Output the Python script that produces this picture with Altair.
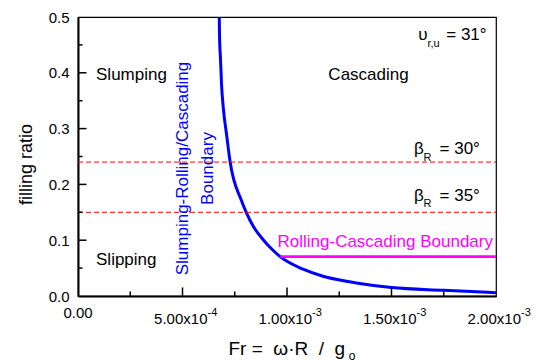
import altair as alt
import pandas as pd

# ---------------- data ----------------
curve_x = [0.000676, 0.000677, 0.000682, 0.000687, 0.000696, 0.000711, 0.000728,
           0.000781, 0.000805, 0.000840, 0.000888, 0.000933, 0.000969, 0.001077,
           0.001172, 0.001284, 0.001332, 0.0015, 0.00175, 0.002]
curve_y = [0.5, 0.468, 0.423, 0.378, 0.334, 0.289, 0.240,
           0.172, 0.150, 0.124, 0.100, 0.082, 0.070, 0.048,
           0.0354, 0.0264, 0.0233, 0.0151, 0.0102, 0.0060]

beta_levels = [0.24, 0.15]
rc_x = [0.000969, 0.002]
rc_level = 0.0705

x_major = [0.0005, 0.001, 0.0015]
x_minor = [0.00025, 0.00075, 0.00125, 0.00175]
y_major = [0.1, 0.2, 0.3, 0.4]
y_minor = [0.05, 0.15, 0.25, 0.35, 0.45]
y_labels = [0.0, 0.1, 0.2, 0.3, 0.4, 0.5]

xlab_vals = [0.0005, 0.001, 0.0015, 0.002]
xlab_base = ["5.00x10", "1.00x10", "1.50x10", "2.00x10"]
xlab_sup = ["-4", "-3", "-3", "-3"]

left_texts = ["Slumping", "Slipping", "\u03c5", "\u03b2", "\u03b2"]
left_x = [0.0000862, 0.0000862, 0.001628, 0.001608, 0.001608]
left_y = [0.387, 0.0551, 0.458, 0.254, 0.1706]

sub_texts = ["r,u", "R", "R"]
sub_x = [0.001672, 0.001653, 0.001653]
sub_y = [0.447, 0.2426, 0.160]

right_texts = ["= 31\u00b0", "= 30\u00b0", "= 35\u00b0"]
right_x = [0.001955, 0.001923, 0.001923]
right_y = [0.458, 0.254, 0.1706]

blue_texts = ["Slumping-Rolling/Cascading", "Boundary"]
blue_x = [0.000503, 0.000623]
blue_y = [0.2285, 0.2285]

x_title = "Fr = \u00a0\u03c9\u00b7R\u00a0\u00a0/\u00a0\u00a0g"
x_title_sub = "o"

FONT = "Liberation Sans"
XS = alt.Scale(domain=[0, 0.002], nice=False, zero=False)
YS = alt.Scale(domain=[0, 0.5], nice=False, zero=False)

X_AXIS = alt.Axis(labels=False, ticks=False, grid=False, title=None,
                  domainColor="black", domainWidth=2)
Y_AXIS = alt.Axis(values=y_labels, format=".1f", ticks=False, grid=False,
                  labelPadding=9, labelFontSize=15, labelFont=FONT,
                  labelColor="black", domainColor="black", domainWidth=2,
                  title="filling ratio", titleFont=FONT, titleFontSize=18,
                  titleFontWeight="normal", titleColor="black",
                  titleAngle=270, titleAlign="center", titleBaseline="alphabetic",
                  titleX=-47, titleY=147)


def X(f="x"):
    return alt.X(f, type="quantitative", scale=XS, axis=X_AXIS)


def Y(f="y"):
    return alt.Y(f, type="quantitative", scale=YS, axis=Y_AXIS)


# ---------------- layers ----------------
dash_df = pd.DataFrame({"x": [0.0] * len(beta_levels), "x2": [0.002] * len(beta_levels),
                        "y": beta_levels})
dashes = alt.Chart(dash_df).mark_rule(color="#ff0000", strokeWidth=1, strokeDash=[5, 3]).encode(
    x=X(), x2="x2", y=Y())

rc_df = pd.DataFrame({"x": [rc_x[0]], "x2": [rc_x[1]], "y": [rc_level]})
rc_line = alt.Chart(rc_df).mark_rule(color="#ff00ff", strokeWidth=2.6).encode(
    x=X(), x2="x2", y=Y())

curve_df = pd.DataFrame({"x": curve_x, "y": curve_y})
curve = alt.Chart(curve_df).mark_line(color="#0000ff", strokeWidth=3, interpolate="monotone",
                                      clip=True).encode(
    x=X(), y=Y(), order="x:Q")

# inward ticks
xt_df = pd.DataFrame({"x": x_major + x_minor, "y": [0.0] * 7,
                      "y2": [0.0153] * 3 + [0.0081] * 4})
xticks = alt.Chart(xt_df).mark_rule(color="black", strokeWidth=1.5).encode(
    x=X(), y=Y(), y2="y2")
yt_df = pd.DataFrame({"y": y_major + y_minor, "x": [0.0] * 9,
                      "x2": [0.0000407] * 4 + [0.0000216] * 5})
yticks = alt.Chart(yt_df).mark_rule(color="black", strokeWidth=1.5).encode(
    y=Y(), x=X(), x2="x2")

# x tick labels
xl_df = pd.DataFrame({"x": xlab_vals, "y": [0.0] * 4, "base": xlab_base, "sup": xlab_sup})
xlab_main = alt.Chart(xl_df).mark_text(align="right", baseline="middle", dx=25, dy=23,
                                       font=FONT, fontSize=15, color="black").encode(
    x=X(), y=Y(), text="base")
xlab_sup_l = alt.Chart(xl_df).mark_text(align="left", baseline="middle", dx=25, dy=17,
                                        font=FONT, fontSize=11, color="black").encode(
    x=X(), y=Y(), text="sup")
zero_df = pd.DataFrame({"x": [0.0], "y": [0.0], "t": ["0.00"]})
xlab_zero = alt.Chart(zero_df).mark_text(align="center", baseline="middle", dy=17,
                                         font=FONT, fontSize=15, color="black").encode(
    x=X(), y=Y(), text="t")

# x title
xt_main_df = pd.DataFrame({"x": [0.00072], "y": [0.0], "t": [x_title]})
xtitle = alt.Chart(xt_main_df).mark_text(align="left", baseline="alphabetic", dy=58.6,
                                         font=FONT, fontSize=19, color="black").encode(
    x=X(), y=Y(), text="t")
xt_sub_df = pd.DataFrame({"x": [0.001295], "y": [0.0], "t": [x_title_sub]})
xtitle_sub = alt.Chart(xt_sub_df).mark_text(align="left", baseline="alphabetic", dy=63.5,
                                            font=FONT, fontSize=12, color="black").encode(
    x=X(), y=Y(), text="t")

# annotations
lt = alt.Chart(pd.DataFrame({"x": left_x, "y": left_y, "t": left_texts})).mark_text(
    align="left", baseline="alphabetic", font=FONT, fontSize=17, color="black").encode(
    x=X(), y=Y(), text="t")
st = alt.Chart(pd.DataFrame({"x": sub_x, "y": sub_y, "t": sub_texts})).mark_text(
    align="left", baseline="alphabetic", font=FONT, fontSize=11, color="black").encode(
    x=X(), y=Y(), text="t")
rt = alt.Chart(pd.DataFrame({"x": right_x, "y": right_y, "t": right_texts})).mark_text(
    align="right", baseline="alphabetic", font=FONT, fontSize=17, color="black").encode(
    x=X(), y=Y(), text="t")
casc = alt.Chart(pd.DataFrame({"x": [0.00139], "y": [0.387], "t": ["Cascading"]})).mark_text(
    align="center", baseline="alphabetic", font=FONT, fontSize=17, color="black").encode(
    x=X(), y=Y(), text="t")
rc_text = alt.Chart(pd.DataFrame({"x": [0.00147], "y": [0.088],
                                  "t": ["Rolling-Cascading Boundary"]})).mark_text(
    align="center", baseline="alphabetic", font=FONT, fontSize=17, color="#ff00ff").encode(
    x=X(), y=Y(), text="t")
bt = alt.Chart(pd.DataFrame({"x": blue_x, "y": blue_y, "t": blue_texts})).mark_text(
    align="center", baseline="middle", angle=270, font=FONT, fontSize=17,
    color="#0000ff").encode(x=X(), y=Y(), text="t")

chart = alt.layer(
    curve, dashes, rc_line, xticks, yticks, xlab_main, xlab_sup_l, xlab_zero,
    xtitle, xtitle_sub, lt, st, rt, casc, rc_text, bt
).properties(
    width=418, height=279,
    autosize=alt.AutoSizeParams(type="none"),
    padding={"left": 78, "top": 17, "right": 40, "bottom": 65},
    background="white",
).configure_view(stroke="black", strokeWidth=1.2)

chart.save("out.html", embed_options={"renderer": "svg", "actions": False})
